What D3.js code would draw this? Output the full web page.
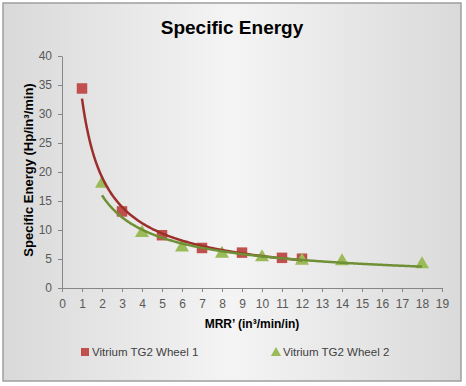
<!DOCTYPE html>
<html>
<head>
<meta charset="utf-8">
<script src="https://cdn.jsdelivr.net/npm/d3@7"></script>
<style>
    body { margin: 0; background: #fff; }
    svg { display: block; font-family: "Liberation Sans", Arial, sans-serif; }
</style>
</head>
<body>
<div id="chart"></div>
<script>
// values
const wheel1X = [1, 3, 5, 7, 9, 11, 12];
const wheel1Y = [34.4, 13.2, 9.1, 6.9, 6.1, 5.2, 5.05];
const wheel2X = [2, 4, 6, 8, 10, 12, 14, 18];
const wheel2Y = [18.0, 9.5, 7.0, 5.9, 5.3, 4.7, 4.6, 4.1];
const xTicks = d3.range(0, 20);
const yTicks = [0, 5, 10, 15, 20, 25, 30, 35, 40];
const seriesNames = ['Vitrium TG2 Wheel 1', 'Vitrium TG2 Wheel 2'];

const width = 466, height = 386;
const marginLeft = 62, marginRight = 24, marginTop = 56, marginBottom = 98;

const x = d3.scaleLinear().domain([0, 19]).range([marginLeft, width - marginRight]);
const y = d3.scaleLinear().domain([0, 40]).range([height - marginBottom, marginTop]);

// power trendline, least squares on log-log like excel does
function powerFit(xs, ys) {
    const lx = xs.map(Math.log), ly = ys.map(Math.log);
    const n = xs.length;
    const mx = d3.mean(lx), my = d3.mean(ly);
    let sxy = 0, sxx = 0;
    for (let i = 0; i < n; i++) {
        sxy += (lx[i] - mx) * (ly[i] - my);
        sxx += (lx[i] - mx) * (lx[i] - mx);
    }
    const b = sxy / sxx;
    const a = Math.exp(my - b * mx);
    return v => a * Math.pow(v, b);
}

const svg = d3.select('#chart').append('svg')
    .attr('width', width)
    .attr('height', height);

const defs = svg.append('defs');
const grad = defs.append('linearGradient').attr('id', 'bg').attr('x1', 0).attr('x2', 1).attr('y1', 0).attr('y2', 0);
grad.append('stop').attr('offset', '0%').attr('stop-color', '#d9d9d9');
grad.append('stop').attr('offset', '50%').attr('stop-color', '#f4f4f4');
grad.append('stop').attr('offset', '100%').attr('stop-color', '#dadada');

svg.append('rect')
    .attr('x', 3).attr('y', 3)
    .attr('width', 458).attr('height', 378)
    .attr('fill', 'url(#bg)')
    .attr('stroke', '#9e9e9e')
    .attr('stroke-width', 1.5);

svg.append('text')
    .attr('x', 232).attr('y', 34)
    .attr('text-anchor', 'middle')
    .attr('font-size', 19)
    .attr('font-weight', 'bold')
    .attr('fill', '#000')
    .text('Specific Energy');

// axes
const xAxis = d3.axisBottom(x).tickValues(xTicks).tickSize(4).tickSizeOuter(0);
const yAxis = d3.axisLeft(y).tickValues(yTicks).tickSize(4).tickSizeOuter(0);

svg.append('g')
    .attr('transform', `translate(0,${y(0)})`)
    .call(xAxis)
    .call(g => g.select('.domain').attr('stroke', '#868686'))
    .call(g => g.selectAll('.tick line').attr('stroke', '#868686'))
    .call(g => g.selectAll('.tick text').attr('fill', '#595959').attr('font-size', 12)
        .attr('y', 20).attr('dy', null));

svg.append('g')
    .attr('transform', `translate(${x(0)},0)`)
    .call(yAxis)
    .call(g => g.select('.domain').attr('stroke', '#868686'))
    .call(g => g.selectAll('.tick line').attr('stroke', '#868686'))
    .call(g => g.selectAll('.tick text').attr('fill', '#595959').attr('font-size', 12).attr('x', -10));

svg.append('text')
    .attr('x', 252).attr('y', 328)
    .attr('text-anchor', 'middle')
    .attr('font-size', 12)
    .attr('font-weight', 'bold')
    .text('MRR\u2019 (in\u00b3/min/in)');

svg.append('text')
    .attr('transform', `translate(33,170) rotate(-90)`)
    .attr('text-anchor', 'middle')
    .attr('font-size', 13)
    .attr('font-weight', 'bold')
    .text('Specific Energy (Hp/in\u00b3/min)');

// trendlines
const line = d3.line().x(d => x(d[0])).y(d => y(d[1]));
const fit1 = powerFit(wheel1X, wheel1Y);
const fit2 = powerFit(wheel2X, wheel2Y);
const trend1 = d3.range(d3.min(wheel1X), d3.max(wheel1X) + 0.001, 0.05).map(v => [v, fit1(v)]);
const trend2 = d3.range(d3.min(wheel2X), d3.max(wheel2X) + 0.001, 0.05).map(v => [v, fit2(v)]);

// markers
const sym = d3.symbol();
svg.append('g')
    .attr('fill', '#c0504d')
    .selectAll('path')
    .data(wheel1X.map((v, i) => [v, wheel1Y[i]]))
    .join('path')
    .attr('transform', d => `translate(${x(d[0])},${y(d[1])})`)
    .attr('d', sym.type(d3.symbolSquare).size(110)());

svg.append('g')
    .attr('fill', '#9bbb59')
    .selectAll('path')
    .data(wheel2X.map((v, i) => [v, wheel2Y[i]]))
    .join('path')
    .attr('transform', d => `translate(${x(d[0])},${y(d[1])})`)
    .attr('d', sym.type(d3.symbolTriangle).size(85)());

svg.append('path')
    .datum(trend1)
    .attr('fill', 'none')
    .attr('stroke', '#9c2f2c')
    .attr('stroke-width', 2.5)
    .attr('d', line);

svg.append('path')
    .datum(trend2)
    .attr('fill', 'none')
    .attr('stroke', '#6f9035')
    .attr('stroke-width', 2.5)
    .attr('d', line);

// legend
const legend = svg.append('g').attr('font-size', 11.5);
legend.append('path')
    .attr('transform', 'translate(85,352)')
    .attr('fill', '#c0504d')
    .attr('d', d3.symbol().type(d3.symbolSquare).size(64)());
legend.append('text').attr('x', 92).attr('y', 356).attr('fill', '#404040').text(seriesNames[0]);
legend.append('path')
    .attr('transform', 'translate(276,353)')
    .attr('fill', '#9bbb59')
    .attr('d', d3.symbol().type(d3.symbolTriangle).size(45)());
legend.append('text').attr('x', 283).attr('y', 356).attr('fill', '#404040').text(seriesNames[1]);
</script>
</body>
</html>
